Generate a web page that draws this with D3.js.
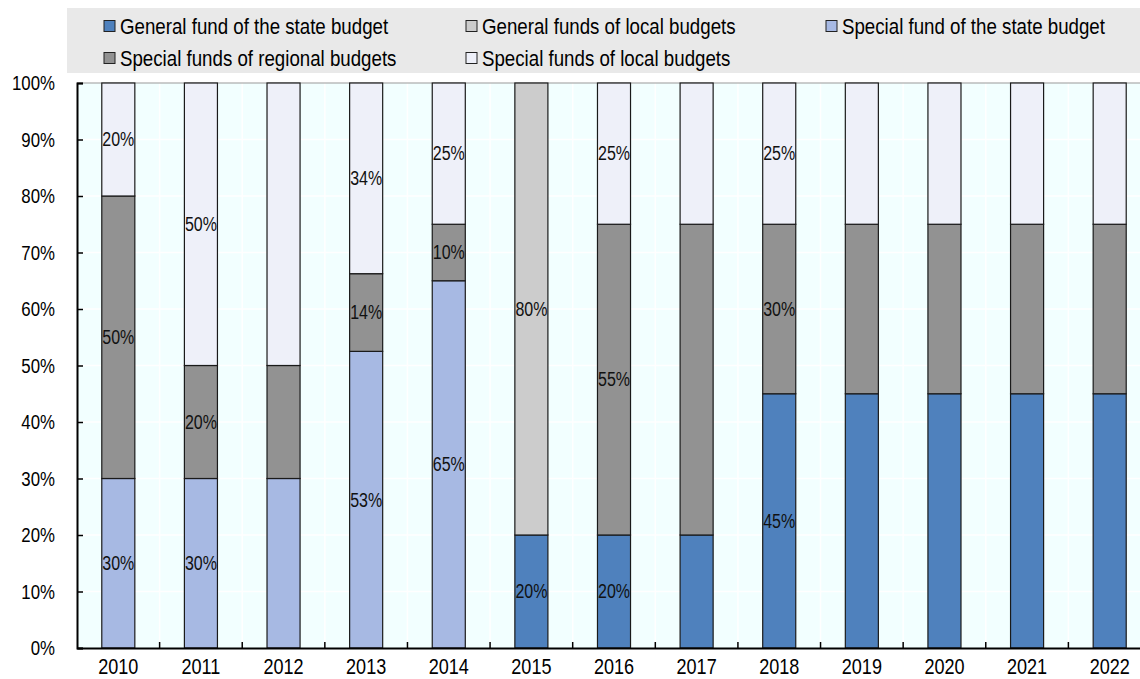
<!DOCTYPE html>
<html><head><meta charset="utf-8">
<script src="https://cdn.jsdelivr.net/npm/d3@7"></script>
<style>body{margin:0;background:#fff;} svg{display:block;font-family:"Liberation Sans",Arial,sans-serif;}</style>
</head><body>
<svg id="chart" width="1140" height="679"></svg>
<script>
const years = ["2010","2011","2012","2013","2014","2015","2016","2017","2018","2019","2020","2021","2022"];
const seriesNames = ["General fund of the state budget","General funds of local budgets","Special fund of the state budget","Special funds of regional budgets","Special funds of local budgets"];
const seriesColors = ["#4f81bd","#cccccc","#a7b9e3","#929292","#eef0f9"];
const generalState   = [0,0,0,0,0,20,20,20,45,45,45,45,45];
const generalLocal   = [0,0,0,0,0,80,0,0,0,0,0,0,0];
const specialState   = [30,30,30,52.5,65,0,0,0,0,0,0,0,0];
const specialRegional= [50,20,20,13.75,10,0,55,55,30,30,30,30,30];
const specialLocal   = [20,50,50,33.75,25,0,25,25,25,25,25,25,25];
const labelledYears  = ["2010","2011","2013","2014","2015","2016","2018"];
const yTicks = [0,10,20,30,40,50,60,70,80,90,100];

const seriesValues = [generalState, generalLocal, specialState, specialRegional, specialLocal];
const rows = years.map((yr,i)=>{const r={year:yr}; seriesNames.forEach((s,k)=>r[s]=seriesValues[k][i]); return r;});

// condensed (Arial Narrow-like) text
const NARROW = 0.82;
function narrow(sel){
  sel.each(function(){
    const w = this.getComputedTextLength();
    d3.select(this).attr("textLength", w*NARROW).attr("lengthAdjust","spacingAndGlyphs");
  });
}

const svg = d3.select("#chart");
const pL = 77, pR = 1151, pT = 83, pB = 648;
const x = d3.scaleBand().domain(years).range([pL,pR]).paddingInner(0).paddingOuter(0);
const y = d3.scaleLinear().domain([0,100]).range([pB,pT]);
const barW = x.bandwidth()*0.4;

// plot background
svg.append("rect").attr("x",pL).attr("y",pT).attr("width",pR-pL).attr("height",pB-pT).attr("fill","#f2ffff");
// gridlines
svg.append("g").selectAll("line").data(yTicks.slice(1,-1)).join("line")
  .attr("x1",pL).attr("x2",pR).attr("y1",d=>y(d)).attr("y2",d=>y(d))
  .attr("stroke","#ffffff").attr("stroke-width",1.5);
svg.append("g").selectAll("line").data(years.slice(1)).join("line")
  .attr("x1",d=>x(d)).attr("x2",d=>x(d)).attr("y1",pT).attr("y2",pB)
  .attr("stroke","#ffffff").attr("stroke-width",1.5);
// top line
svg.append("line").attr("x1",pL).attr("x2",pR).attr("y1",pT).attr("y2",pT).attr("stroke","#999").attr("stroke-width",1);

// stacks
const stack = d3.stack().keys(seriesNames)(rows);
const gBars = svg.append("g");
stack.forEach((layer,k)=>{
  gBars.append("g").selectAll("rect").data(layer.filter(d=>d[1]-d[0]>0)).join("rect")
    .attr("x",d=>x(d.data.year)+x.bandwidth()/2-barW/2)
    .attr("width",barW)
    .attr("y",d=>y(d[1]))
    .attr("height",d=>y(d[0])-y(d[1]))
    .attr("fill",seriesColors[k])
    .attr("stroke","#1a1a1a").attr("stroke-width",1.2);
});
// labels
stack.forEach((layer,k)=>{
  gBars.append("g").selectAll("text").data(layer.filter(d=>d[1]-d[0]>0 && labelledYears.includes(d.data.year))).join("text")
    .attr("x",d=>x(d.data.year)+x.bandwidth()/2)
    .attr("y",d=>y((d[0]+d[1])/2))
    .attr("dy","0.35em").attr("text-anchor","middle")
    .attr("font-size",19.5).attr("fill","#111")
    .text(d=>Math.round(d[1]-d[0])+"%")
    .call(narrow);
});

// axes
const yAxis = d3.axisLeft(y).tickValues(yTicks).tickFormat(d=>d+"%").tickSize(-6).tickPadding(22);
const gy = svg.append("g").attr("transform",`translate(${pL},0)`).call(yAxis);
gy.select(".domain").attr("stroke","#000").attr("stroke-width",2);
gy.selectAll(".tick line").attr("stroke","#000").attr("stroke-width",1.5);
gy.selectAll(".tick text").attr("font-size",20.5).attr("fill","#000").attr("font-family","Liberation Sans, Arial, sans-serif").call(narrow);

const xAxis = d3.axisBottom(x).tickSize(0).tickPadding(10);
const gx = svg.append("g").attr("transform",`translate(0,${pB})`).call(xAxis);
gx.select(".domain").attr("stroke","#000").attr("stroke-width",2);
gx.selectAll(".tick text").attr("font-size",22).attr("fill","#000").attr("font-family","Liberation Sans, Arial, sans-serif").call(narrow);
svg.append("g").selectAll("line").data(years.slice(1)).join("line")
  .attr("x1",d=>x(d)).attr("x2",d=>x(d)).attr("y1",pB).attr("y2",pB-6)
  .attr("stroke","#000").attr("stroke-width",1.5);

// legend
svg.append("rect").attr("x",67).attr("y",8).attr("width",1073).attr("height",65).attr("fill","#e9e9e9");
const legPos = [[104,26],[466,26],[826,26],[104,58],[466,58]];
const lg = svg.append("g").selectAll("g").data(seriesNames).join("g")
  .attr("transform",(d,i)=>`translate(${legPos[i][0]},${legPos[i][1]})`);
lg.append("rect").attr("x",0).attr("y",-5.5).attr("width",11).attr("height",11)
  .attr("fill",(d,i)=>seriesColors[i]).attr("stroke","#222").attr("stroke-width",1);
lg.append("text").attr("x",16).attr("dy","0.35em").attr("font-size",22.8).attr("fill","#000").text(d=>d).call(narrow);
</script>
</body></html>
